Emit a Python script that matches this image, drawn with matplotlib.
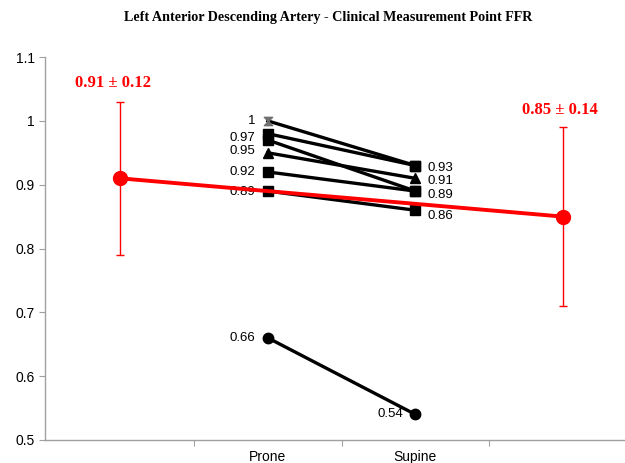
import matplotlib
matplotlib.use("Agg")
import matplotlib.pyplot as plt
from matplotlib.path import Path
import numpy as np

categories = ["Prone", "Supine"]
prone = [1.00, 0.98, 0.97, 0.95, 0.92, 0.89, 0.66]
supine = [0.93, 0.93, 0.89, 0.91, 0.89, 0.86, 0.54]
prone_labels = ["1", "", "0.97", "0.95", "0.92", "0.89", "0.66"]
supine_labels = ["0.93", "", "0.89", "0.91", "", "0.86", "0.54"]
mean_vals = [0.91, 0.85]
sd_vals = [0.12, 0.14]
mean_texts = ["0.91 \u00b1 0.12", "0.85 \u00b1 0.14"]

hourglass = Path([(-1, 1), (1, 1), (-1, -1), (1, -1), (-1, 1)],
                 [Path.MOVETO, Path.LINETO, Path.LINETO, Path.LINETO, Path.CLOSEPOLY])
prone_markers = [hourglass, "s", "s", "^", "s", "s", "o"]
supine_markers = ["s", "s", "s", "^", "s", "s", "o"]
prone_colors = ["#707070", "k", "k", "k", "k", "k", "k"]

fig = plt.figure(figsize=(6.25, 4.63), dpi=100)
ax = fig.add_axes([0.072, 0.0497, 0.928, 0.827])

x_pr, x_su = 1, 2
for i in range(len(prone)):
    ax.plot([x_pr, x_su], [prone[i], supine[i]], color="black", lw=2.4, zorder=3)
    ax.plot([x_pr], [prone[i]], marker=prone_markers[i], color=prone_colors[i],
            ms=7.5 if i else 6, linestyle="none", zorder=4)
    ax.plot([x_su], [supine[i]], marker=supine_markers[i], color="black",
            ms=7.5, linestyle="none", zorder=4)

# prone labels (left)
pr_off = [0, 0, 1.5, 1, 0, -1, 0]
for i, t in enumerate(prone_labels):
    if t:
        ax.annotate(t, (x_pr, prone[i]), xytext=(-9, pr_off[i]), textcoords="offset points",
                    ha="right", va="center", fontsize=9.5, family="Liberation Sans")
# supine labels
su_off = [-2, 0, -3, -2, 0, -4, 0]
for i, t in enumerate(supine_labels):
    if not t:
        continue
    if i == 6:
        ax.annotate(t, (x_su, supine[i]), xytext=(-9, 0), textcoords="offset points",
                    ha="right", va="center", fontsize=9.5, family="Liberation Sans")
    else:
        ax.annotate(t, (x_su, supine[i]), xytext=(9, su_off[i]), textcoords="offset points",
                    ha="left", va="center", fontsize=9.5, family="Liberation Sans")

# means
mx = [0, 3]
ax.errorbar(mx, mean_vals, yerr=sd_vals, color="#ff0000", lw=2.8, marker="o", ms=10,
            ecolor="#ff0000", elinewidth=1, capsize=3, capthick=1, zorder=5)
ax.text(mx[0] - 0.05, 1.06, mean_texts[0], color="#ff0000", fontsize=12, fontweight="bold",
        family="Liberation Serif", ha="center", va="center")
ax.text(mx[1] - 0.02, 1.017, mean_texts[1], color="#ff0000", fontsize=12, fontweight="bold",
        family="Liberation Serif", ha="center", va="center")

ax.set_xlim(-0.51, 3.42)
ax.set_ylim(0.5, 1.1)
ax.set_yticks(np.arange(0.5, 1.11, 0.1))
ax.set_yticklabels(["0.5", "0.6", "0.7", "0.8", "0.9", "1", "1.1"])
ax.set_xticks([0.5, 1.5, 2.5])
ax.set_xticklabels(["", "", ""])
ax.tick_params(axis="x", length=4, color="#a0a0a0")
ax.tick_params(axis="y", length=4, color="#a0a0a0", labelsize=10)
for t in ax.get_yticklabels():
    t.set_family("Liberation Sans")
for x, c in zip([x_pr, x_su], categories):
    ax.annotate(c, (x, 0.5), xytext=(0, -12.5), textcoords="offset points", ha="center",
                va="center", fontsize=10, family="Liberation Sans", annotation_clip=False)

for s in ["top", "right"]:
    ax.spines[s].set_visible(False)
for s in ["left", "bottom"]:
    ax.spines[s].set_color("#a0a0a0")
    ax.spines[s].set_linewidth(1)

fig.text(328 / 625, 1 - 18 / 463, "Left Anterior Descending Artery - Clinical Measurement Point FFR",
         ha="center", va="center", fontsize=10.2, fontweight="bold", family="Liberation Serif")

fig.savefig("out.png", dpi=100)
